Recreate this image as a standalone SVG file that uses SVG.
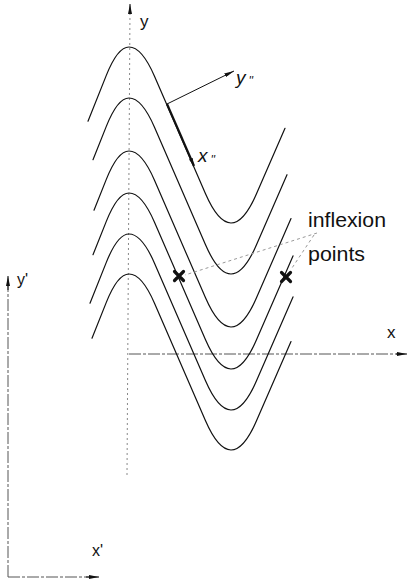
<svg xmlns="http://www.w3.org/2000/svg" width="407" height="583" viewBox="0 0 407 583">
<style>
.curve{fill:none;stroke:#111;stroke-width:1.2;stroke-linejoin:round;stroke-linecap:round}
.axisd{fill:none;stroke:#888;stroke-width:1;stroke-dasharray:2 3}
.axis{fill:none;stroke:#555;stroke-width:1;stroke-dasharray:12 2 3 2}
.lead{fill:none;stroke:#999;stroke-width:1;stroke-dasharray:3 3}
.vec{fill:none;stroke:#111}
.lbl{font-family:"Liberation Sans","DejaVu Sans",sans-serif;fill:#111}
.it{font-style:italic}
.cross{stroke:#111;stroke-width:3.2;stroke-linecap:round}
</style>
<defs>
<marker id="ah" viewBox="0 0 10 4" refX="10" refY="2" markerWidth="10" markerHeight="4" markerUnits="userSpaceOnUse" orient="auto"><path d="M0,0 L10,2 L0,4 z" fill="#111"/></marker>
<marker id="ahs" viewBox="0 0 8 4" refX="8" refY="2" markerWidth="8" markerHeight="4" markerUnits="userSpaceOnUse" orient="auto"><path d="M0,0 L8,2 L0,4 z" fill="#111"/></marker>
</defs>

<g id="axes">
<line class="axisd" x1="130" y1="8" x2="127" y2="475"/>
<line x1="130" y1="14" x2="130" y2="4" stroke="#111" stroke-width="1" marker-end="url(#ah)"/>
<line class="axis" x1="129" y1="354" x2="400" y2="354"/>
<line x1="396" y1="354" x2="407" y2="354" stroke="#111" stroke-width="1" marker-end="url(#ah)"/>
<line class="axis" x1="8" y1="577" x2="8" y2="285"/>
<line x1="8" y1="290" x2="8" y2="276" stroke="#111" stroke-width="1" marker-end="url(#ah)"/>
<line class="axis" x1="8" y1="577" x2="90" y2="577"/>
<line x1="86" y1="577" x2="99" y2="577" stroke="#111" stroke-width="1" marker-end="url(#ah)"/>
</g>

<g id="curves">
<path class="curve" transform="translate(129,47)" d="M-41,74.2 L-22.7,28.4 Q-11.35,0 0,0 Q12.8,0 25.6,29.4 L76.4,146.6 Q89.2,176 102,176 Q114.8,176 127.6,146.6 L156,81.3"/>
<path class="curve" transform="translate(129,98)" d="M-36,61.7 L-22.7,28.4 Q-11.35,0 0,0 Q12.8,0 25.6,29.4 L76.4,146.6 Q89.2,176 102,176 Q114.8,176 127.6,146.6 L158,76.7"/>
<path class="curve" transform="translate(129,151)" d="M-35,59.2 L-22.7,28.4 Q-11.35,0 0,0 Q12.8,0 25.6,29.4 L76.4,146.6 Q89.2,176 102,176 Q114.8,176 127.6,146.6 L162,67.5"/>
<path class="curve" transform="translate(129,193)" d="M-36,61.7 L-22.7,28.4 Q-11.35,0 0,0 Q12.8,0 25.6,29.4 L76.4,146.6 Q89.2,176 102,176 Q114.8,176 127.6,146.6 L164,62.9"/>
<path class="curve" transform="translate(129,234)" d="M-39,69.2 L-22.7,28.4 Q-11.35,0 0,0 Q12.8,0 25.6,29.4 L76.4,146.6 Q89.2,176 102,176 Q114.8,176 127.6,146.6 L164,62.9"/>
<path class="curve" transform="translate(129,274)" d="M-37,64.2 L-22.7,28.4 Q-11.35,0 0,0 Q12.8,0 25.6,29.4 L76.4,146.6 Q89.2,176 102,176 Q114.8,176 127.6,146.6 L162,67.5"/>
</g>

<g id="vectors">
<line class="vec" x1="167" y1="104" x2="234" y2="71" stroke-width="1" marker-end="url(#ah)"/>
<line class="vec" x1="167" y1="104" x2="194" y2="166" stroke-width="2.2" marker-end="url(#ahs)"/>
</g>

<g id="inflexion-points">
<path class="lead" d="M317,233 L185,275 M314,235 L292,268"/>
<path class="cross" d="M174.5,271.5 L183.5,280.5 M183.5,271.5 L174.5,280.5"/>
<path class="cross" d="M281.5,272.5 L290.5,281.5 M290.5,272.5 L281.5,281.5"/>
</g>

<g id="labels">
<text class="lbl" x="140" y="27" font-size="17">y</text>
<text class="lbl" x="387" y="338" font-size="17">x</text>
<text class="lbl" x="17" y="285" font-size="16">y'</text>
<text class="lbl" x="92" y="556" font-size="16">x'</text>
<text class="lbl it" x="236" y="84" font-size="19">y<tspan font-size="12" dx="3" dy="1">''</tspan></text>
<text class="lbl it" x="198" y="162" font-size="19">x<tspan font-size="12" dx="3" dy="2">''</tspan></text>
<text class="lbl" x="308" y="227" font-size="20" textLength="78" lengthAdjust="spacingAndGlyphs">inflexion</text>
<text class="lbl" x="308" y="261" font-size="20" textLength="57" lengthAdjust="spacingAndGlyphs">points</text>
</g>
</svg>
